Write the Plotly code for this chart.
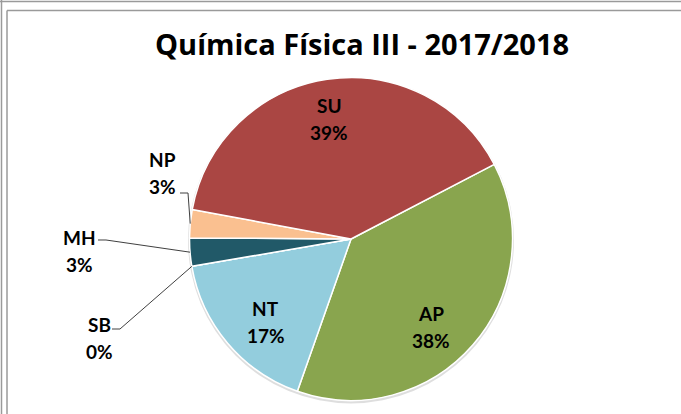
import math
import plotly.graph_objects as go

# ---- data ----
categories = ["AP", "NT", "SB", "MH", "NP", "SU"]
counts = [27, 12, 0, 2, 2, 28]
colors = ["#89A54E", "#93CDDD", "#4F81BD", "#215968", "#FAC090", "#AA4643"]
title_text = "Química Física III - 2017/2018"

# ---- layout constants (pixels) ----
W, H = 681, 414
CX, CY, R = 351, 239, 161.5
ROTATION = 62.5
FONT = "Lato"
TITLE_FONT = "Open Sans"
LABEL_SIZE = 19
LINE_PITCH = 27
INSIDE_FRAC = 0.74
label_nudge = {"AP": (-10, 10), "NT": (6, 6), "SU": (-4, -2)}
outside_label_pos = {"NP": (162, 173), "MH": (79, 251), "SB": (99, 338)}
leader_start = {"NP": (180, 193), "MH": (98, 240), "SB": (112, 329)}


def px(x, y):
    return x / W, 1 - y / H


total = sum(counts)

fig = go.Figure(go.Pie(
    labels=categories,
    values=counts,
    sort=False,
    direction="clockwise",
    rotation=ROTATION,
    textinfo="none",
    hoverinfo="label+percent",
    marker=dict(colors=colors, line=dict(color="white", width=1.5)),
    domain=dict(x=[(CX - R) / W, (CX + R) / W], y=[1 - (CY + R) / H, 1 - (CY - R) / H]),
    showlegend=False,
))

annotations = []
shapes = []

# frame lines
frame_col = "#9a9a9a"
for (x0, y0, x1, y1) in [(0, 1.5, W, 1.5), (1.5, 0, 1.5, H), (7, 10.5, W, 10.5), (7, 10.5, 7, H)]:
    a0 = px(x0, y0)
    a1 = px(x1, y1)
    shapes.append(dict(type="line", xref="paper", yref="paper", x0=a0[0], y0=a0[1], x1=a1[0], y1=a1[1],
                       line=dict(color=frame_col, width=1.5)))

# soft shadow behind pie
s0 = px(CX - R - 1.5, CY - R)
s1 = px(CX + R + 1.5, CY + R + 3)
shapes.append(dict(type="circle", xref="paper", yref="paper", layer="below",
                   x0=s0[0], y0=s1[1], x1=s1[0], y1=s0[1],
                   fillcolor="rgba(0,0,0,0.13)", line=dict(width=0)))

# title
tx, ty = px(362, 43)
annotations.append(dict(text="<b>%s</b>" % title_text, x=tx, y=ty, xref="paper", yref="paper",
                        showarrow=False, xanchor="center", yanchor="middle",
                        font=dict(family=TITLE_FONT, size=29, color="black")))

cum = 0
for cat, v in zip(categories, counts):
    mid = math.radians(ROTATION + 360 * (cum + v / 2) / total)
    cum += v
    pct = "%d%%" % round(100 * v / total)
    if cat in outside_label_pos:
        lx, ly = outside_label_pos[cat]
        # leader line
        ax = CX + R * math.sin(mid)
        ay = CY - R * math.cos(mid)
        sx, sy = leader_start[cat]
        p0 = px(sx, sy)
        p1 = px(sx + 8, sy)
        p2 = px(ax, ay)
        shapes.append(dict(type="path", xref="paper", yref="paper",
                           path="M %f %f L %f %f L %f %f" % (p0[0], p0[1], p1[0], p1[1], p2[0], p2[1]),
                           line=dict(color="#404040", width=1)))
    else:
        nx, ny = label_nudge.get(cat, (0, 0))
        lx = CX + INSIDE_FRAC * R * math.sin(mid) + nx
        ly = CY - INSIDE_FRAC * R * math.cos(mid) + ny
    for txt, dy in [(cat, -LINE_PITCH / 2), (pct, LINE_PITCH / 2)]:
        ax_, ay_ = px(lx, ly + dy)
        annotations.append(dict(text="<b>%s</b>" % txt, x=ax_, y=ay_, xref="paper", yref="paper",
                                showarrow=False, xanchor="center", yanchor="middle",
                                font=dict(family=FONT, size=LABEL_SIZE, color="black")))

fig.update_layout(
    width=W, height=H,
    margin=dict(l=0, r=0, t=0, b=0),
    paper_bgcolor="white",
    plot_bgcolor="white",
    annotations=annotations,
    shapes=shapes,
)

fig.write_html("out.html", config={"displayModeBar": False},
               post_script="document.body.style.margin='0';document.body.style.overflow='hidden';")
